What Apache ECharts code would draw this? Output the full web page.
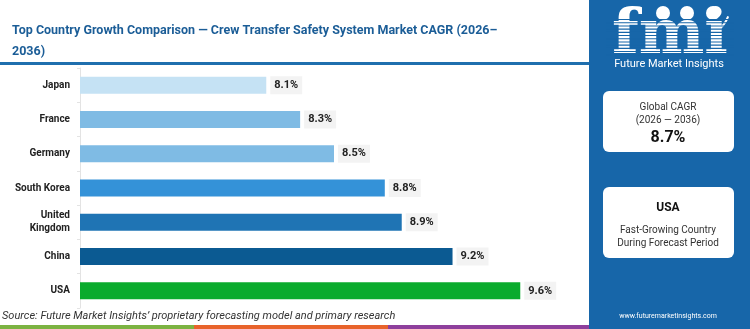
<!DOCTYPE html>
<html>
<head>
<meta charset="utf-8">
<script src="https://cdn.jsdelivr.net/npm/echarts@6/dist/echarts.min.js"></script>
<style>
  html, body { margin: 0; padding: 0; background: #fff; }
  #chart { width: 750px; height: 329px; }
</style>
</head>
<body>
<div id="chart"></div>
<script>
// data
const countries = ['Japan', 'France', 'Germany', 'South Korea', 'United Kingdom', 'China', 'USA'];
const cagrValues = [8.1, 8.3, 8.5, 8.8, 8.9, 9.2, 9.6];
const globalCagr = '8.7%';
const topCountry = 'USA';

const barPalette = ['#c5e2f4', '#7fbbe4', '#7fbbe4', '#3492d8', '#1f74b4', '#0b5a92', '#0aab2d'];
const font = 'Roboto, Inter, sans-serif';

const chart = echarts.init(document.getElementById('chart'));

// striped logo overlay
const stripes = [];
for (let y = 19; y < 56; y += 3.2) {
  stripes.push({
    type: 'rect', z: 12,
    shape: { x: 606, y: y, width: 128, height: 1.1 },
    style: { fill: '#1766a9' }
  });
}

chart.setOption({
  animation: false,
  title: {
    text: 'Top Country Growth Comparison \u2014 Crew Transfer Safety System Market CAGR (2026\u2013\n2036)',
    left: 7,
    top: 15,
    textStyle: { fontFamily: font, fontSize: 12.5, fontWeight: 'bold', color: '#1b5d97', lineHeight: 21 }
  },
  grid: { left: 80, right: 162, top: 68, bottom: 21, containLabel: false },
  xAxis: {
    type: 'value', min: 7, max: 10, show: false
  },
  yAxis: {
    type: 'category',
    inverse: true,
    data: countries.map(c => c === 'United Kingdom' ? 'United\nKingdom' : c),
    axisLine: { show: true, lineStyle: { color: '#e3e3e3', width: 1 } },
    axisTick: { show: true, length: 3, lineStyle: { color: '#e3e3e3' } },
    axisLabel: {
      margin: 10, fontFamily: font, fontSize: 10, fontWeight: 'bold', color: '#222', lineHeight: 13
    }
  },
  series: [{
    type: 'bar',
    barWidth: 17,
    data: cagrValues.map((v, i) => ({ value: v, itemStyle: { color: barPalette[i] } })),
    label: {
      show: true,
      position: 'right',
      distance: 4,
      formatter: p => p.value.toFixed(1) + '%',
      fontFamily: font, fontSize: 11, fontWeight: 'bold', color: '#222',
      backgroundColor: '#f3f3f3', padding: [4, 4, 3, 4]
    }
  }],
  graphic: [
    { type: 'rect', shape: { x: 0, y: 62, width: 590, height: 3 }, style: { fill: '#1f6fae' } },
    { type: 'rect', shape: { x: 589, y: 0, width: 161, height: 329 }, style: { fill: '#1766a9' } },
    // logo
    { type: 'circle', z: 11, shape: { cx: 663, cy: 13, r: 7 }, style: { fill: '#fff' } },
    { type: 'circle', z: 11, shape: { cx: 687, cy: 13, r: 7 }, style: { fill: '#fff' } },
    { type: 'circle', z: 11, shape: { cx: 713, cy: 13, r: 7 }, style: { fill: '#fff' } },
    { type: 'arc', z: 11, shape: { cx: 700, cy: 6, r: 30, startAngle: 0.35, endAngle: 1.0 }, style: { stroke: '#fff', lineWidth: 2, fill: null } },
    {
      type: 'text', z: 11, left: 612, top: 6,
      style: { text: 'fmi', fontFamily: '"DejaVu Serif"', fontSize: 62, fontWeight: 'bold', fill: '#fff' }
    },
    ...stripes,
    {
      type: 'text', z: 11, x: 669, y: 64,
      style: { text: 'Future Market Insights', fontFamily: font, fontSize: 11, fill: '#fff', align: 'center', verticalAlign: 'middle' }
    },
    // global cagr box
    { type: 'rect', shape: { x: 603, y: 91, width: 131, height: 61, r: 6 }, style: { fill: '#fff' } },
    { type: 'text', x: 668, y: 107, style: { text: 'Global CAGR', fontFamily: font, fontSize: 10, fill: '#333', align: 'center', verticalAlign: 'middle' } },
    { type: 'text', x: 668, y: 120, style: { text: '(2026 \u2014 2036)', fontFamily: font, fontSize: 10, fill: '#333', align: 'center', verticalAlign: 'middle' } },
    { type: 'text', x: 668, y: 138, style: { text: globalCagr, fontFamily: font, fontSize: 16, fontWeight: 'bold', fill: '#111', align: 'center', verticalAlign: 'middle' } },
    // top country box
    { type: 'rect', shape: { x: 603, y: 187, width: 131, height: 71, r: 6 }, style: { fill: '#fff' } },
    { type: 'text', x: 668, y: 208, style: { text: topCountry, fontFamily: font, fontSize: 12, fontWeight: 'bold', fill: '#111', align: 'center', verticalAlign: 'middle' } },
    { type: 'text', x: 668, y: 230, style: { text: 'Fast-Growing Country', fontFamily: font, fontSize: 10, fill: '#333', align: 'center', verticalAlign: 'middle' } },
    { type: 'text', x: 668, y: 243, style: { text: 'During Forecast Period', fontFamily: font, fontSize: 10, fill: '#333', align: 'center', verticalAlign: 'middle' } },
    { type: 'text', x: 668, y: 316, style: { text: 'www.futuremarketinsights.com', fontFamily: font, fontSize: 7, fill: '#fff', align: 'center', verticalAlign: 'middle' } },
    // source + bottom strip
    {
      type: 'text', x: 2, y: 316,
      style: { text: 'Source: Future Market Insights\u2019 proprietary forecasting model and primary research', fontFamily: font, fontSize: 11, fontStyle: 'italic', fill: '#333', verticalAlign: 'middle' }
    },
    { type: 'rect', shape: { x: 0, y: 325, width: 194, height: 4 }, style: { fill: '#7cb342' } },
    { type: 'rect', shape: { x: 194, y: 325, width: 194, height: 4 }, style: { fill: '#e8632b' } },
    { type: 'rect', shape: { x: 388, y: 325, width: 201, height: 4 }, style: { fill: '#8e3f9c' } }
  ]
});
</script>
</body>
</html>
